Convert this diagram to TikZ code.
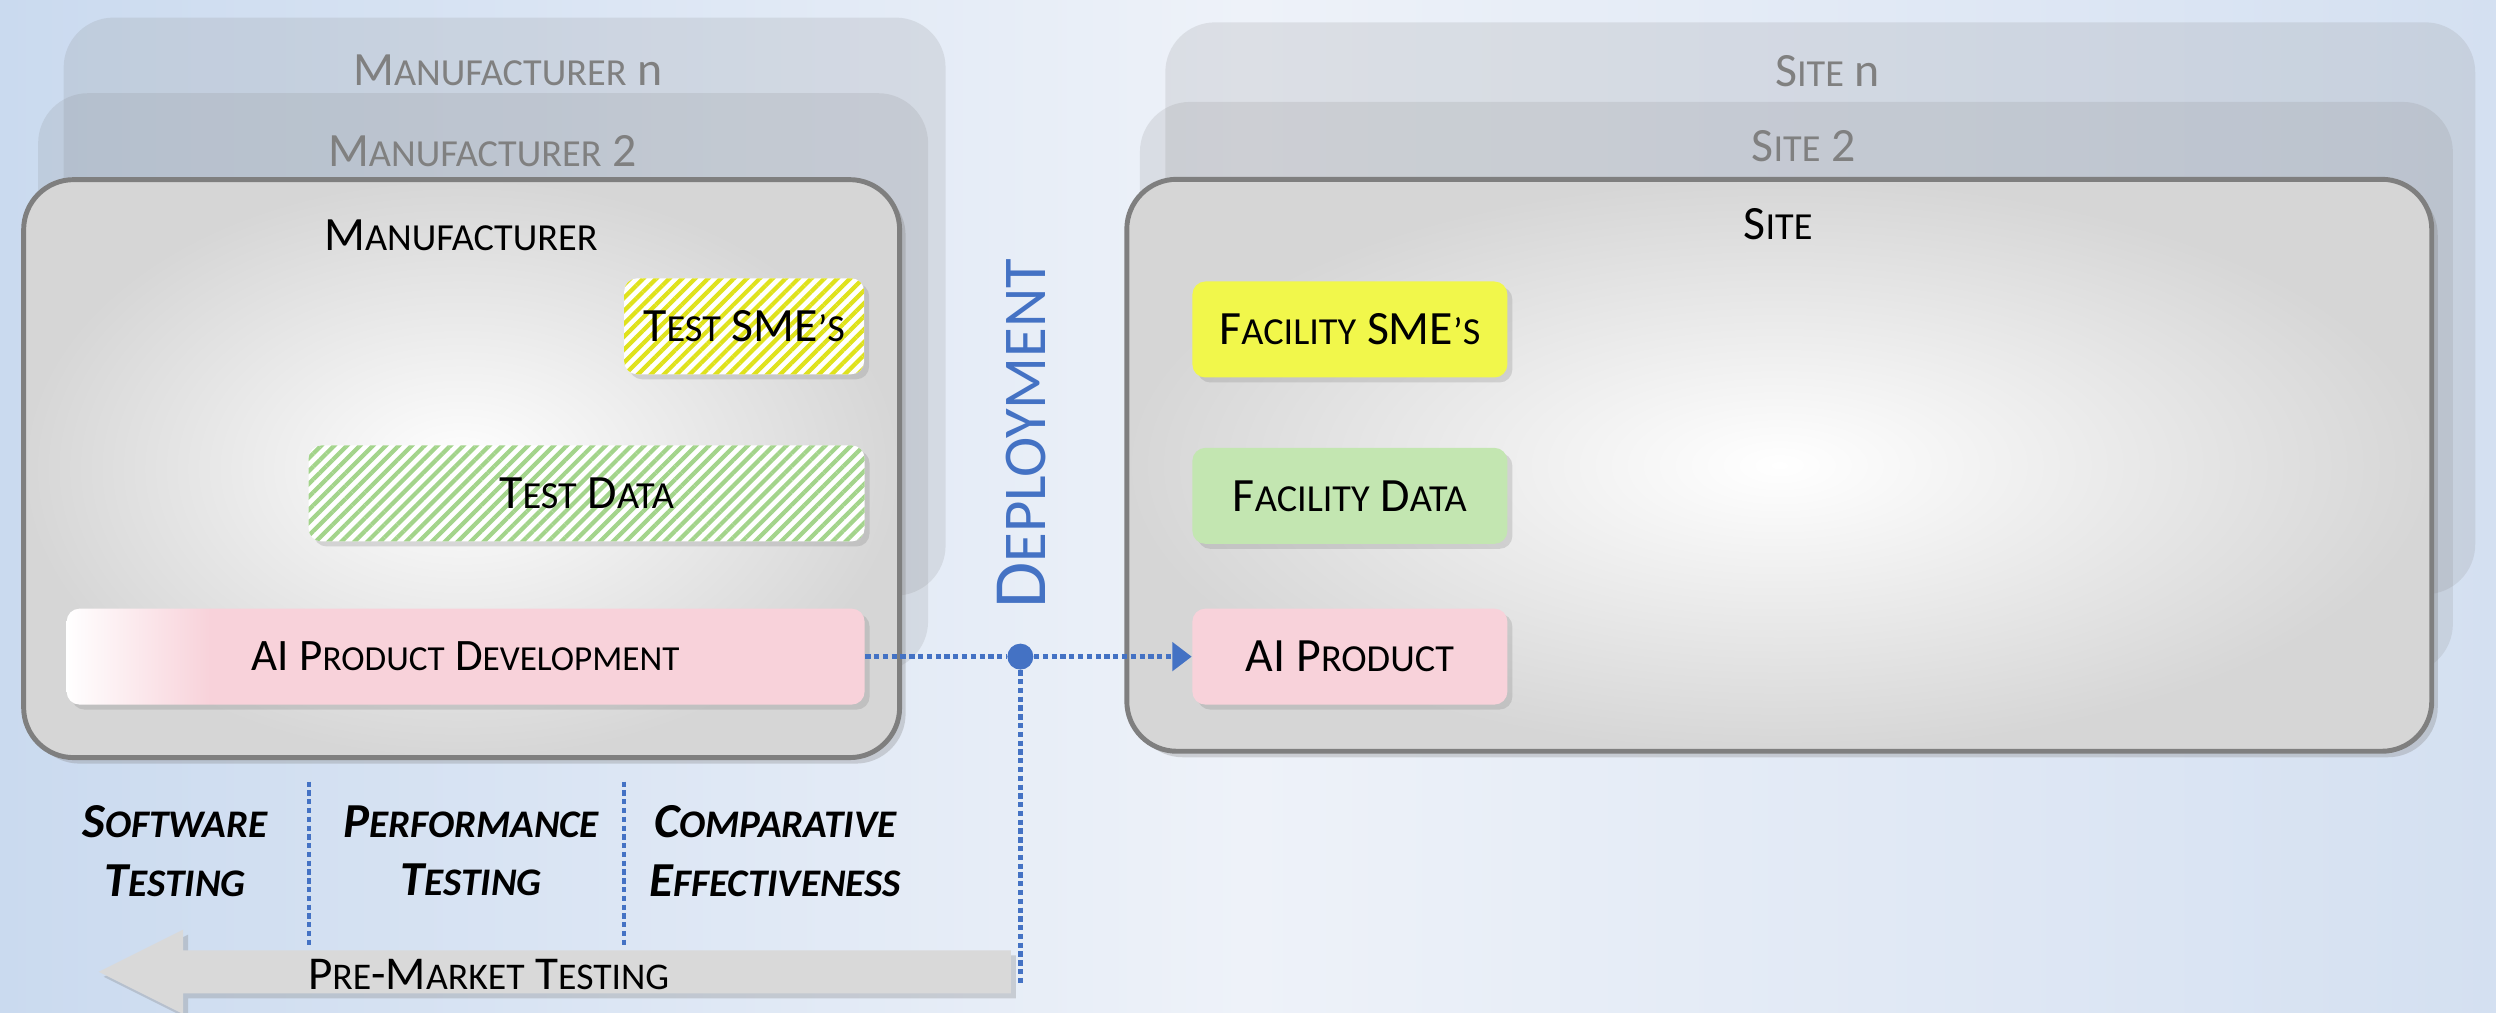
\documentclass[tikz,border=0pt]{standalone}
\usepackage{fontspec}
\setmainfont{Carlito}
\usepackage{relsize}
\usetikzlibrary{arrows.meta, shadows, patterns.meta}

\definecolor{bgl}{HTML}{CADAEF}
\definecolor{bgm}{HTML}{EEF2F9}
\definecolor{bgr}{HTML}{D4E0F1}
\definecolor{boxedge}{HTML}{7F7F7F}
\definecolor{fadedtext}{HTML}{808080}
\definecolor{smeyellow}{HTML}{F1F74B}
\definecolor{hatchyellow}{HTML}{DFE21C}
\definecolor{datagreen}{HTML}{C3E6B1}
\definecolor{hatchgreen}{HTML}{A3D48B}
\definecolor{aipink}{HTML}{F8D2DA}
\definecolor{deployblue}{HTML}{4472C4}
\definecolor{arrowgrey}{HTML}{D9D9D9}

\pgfdeclarehorizontalshading{devfade}{100bp}{color(0bp)=(white); color(25bp)=(white); color(34bp)=(aipink); color(100bp)=(aipink)}

% small caps by hand
\newcommand{\lc}[1]{{\relscale{0.8}\MakeUppercase{#1}}}

\tikzset{
  stackbox/.style={rectangle, rounded corners=0.5cm, fill=black!50, fill opacity=0.16, draw=none},
  stacktext/.style={text=fadedtext, font=\fontsize{13.6}{15}\selectfont},
  mainbox/.style={rectangle, rounded corners=0.5cm, draw=boxedge, line width=1.4pt, inner color=white, outer color=black!16, drop shadow={opacity=0.3, shadow xshift=0.6mm, shadow yshift=-0.6mm}},
  title/.style={font=\fontsize{13.6}{15}\selectfont},
  itembox/.style={rectangle, rounded corners=0.13cm, minimum height=0.96cm, font=\fontsize{13.6}{15}\selectfont, drop shadow={opacity=0.25, shadow xshift=0.5mm, shadow yshift=-0.5mm}},
  hatched/.style={itembox, preaction={fill=white}, pattern={Lines[angle=45,distance=2.6pt,line width=1.2pt]}, pattern color=#1},
  flow/.style={draw=deployblue, line width=1.3pt, dash pattern=on 1.5pt off 1pt},
  phase/.style={align=center, font=\fontsize{13.9}{16.7}\selectfont\bfseries\itshape},
}

\begin{document}
\begin{tikzpicture}[x=0.1592mm, y=-0.1592mm]
		% Background
		\useasboundingbox (0,0) rectangle (1568,636);
		\fill[left color=bgl, right color=bgr, middle color=bgm] (0,0) rectangle (1568,636);

		% Manufacturer stack
		\node[stackbox, minimum width=8.82cm, minimum height=5.78cm] (MfrN) at (317,192.6) {};
		\node[stacktext] (MfrNText) at (319,44) {M\lc{anufacturer} n};
		\node[stackbox, minimum width=8.90cm, minimum height=5.78cm] (Mfr2) at (303.5,240.1) {};
		\node[stacktext] (Mfr2Text) at (303,95) {M\lc{anufacturer} 2};
		\node[mainbox, minimum width=8.76cm, minimum height=5.78cm] (Mfr) at (290,294.4) {};
		\node[title] (MfrText) at (289.5,148) {M\lc{anufacturer}};

		\node[hatched=hatchyellow, minimum width=2.40cm] (TestSME) at (467.5,205) {T\lc{est} SME\lc{’s}};
		\node[hatched=hatchgreen, minimum width=5.56cm] (TestData) at (368.5,310) {T\lc{est} D\lc{ata}};
		\node[itembox, shade, shading=devfade, minimum width=7.98cm, font=\fontsize{12.8}{15}\selectfont] (AIDev) at (292.5,412.5) {AI P\lc{roduct} D\lc{evelopment}};

		% Site stack
		\node[stackbox, minimum width=13.10cm, minimum height=5.72cm] (SiteN) at (1143.5,193.7) {};
		\node[stacktext] (SiteNText) at (1148,45) {S\lc{ite} n};
		\node[stackbox, minimum width=13.13cm, minimum height=5.72cm] (Site2) at (1128.5,243.7) {};
		\node[stacktext] (Site2Text) at (1133,92) {S\lc{ite} 2};
		\node[mainbox, minimum width=13.05cm, minimum height=5.72cm] (Site) at (1117.75,292.3) {};
		\node[title] (SiteText) at (1117,141) {S\lc{ite}};

		\node[itembox, fill=smeyellow, minimum width=3.15cm] (FacSME) at (848,207) {F\lc{acility} SME\lc{’s}};
		\node[itembox, fill=datagreen, minimum width=3.15cm] (FacData) at (848,311.5) {F\lc{acility} D\lc{ata}};
		\node[itembox, fill=aipink, minimum width=3.15cm] (AIProd) at (848,412.5) {AI P\lc{roduct}};

		% Deployment
		\node[text=deployblue, font=\fontsize{21.4}{24}\selectfont, rotate=90] (Deploy) at (641.5,272.5) {D\lc{eployment}};
		\node[circle, fill=deployblue, minimum size=2.6mm, inner sep=0] (Dot) at (641,412.5) {};
		\coordinate (PMend) at (641,618);
		\draw[flow] (AIDev.east) -- (Dot);
		\draw[flow, -{Triangle[length=5.5pt,width=8pt]}] (Dot) -- (AIProd.west);
		\draw[flow] (Dot) -- (PMend);

		% Testing phases
		\draw[flow] (194,491) -- (194,595);
		\draw[flow] (392,491) -- (392,595);
		\node[phase] (SwTest) at (110,534.5) {S\lc{oftware}\\T\lc{esting}};
		\node[phase] (PerfTest) at (296,534.5) {P\lc{erformance}\\T\lc{esting}};
		\node[phase] (CompEff) at (487,534.5) {C\lc{omparative}\\E\lc{ffectiveness}};

		% Pre-market arrow
		\path[fill=arrowgrey, drop shadow={opacity=0.3, shadow xshift=0.5mm, shadow yshift=-0.5mm}]
			(635,597) -- (115,597) -- (115,584) -- (62,610.5) -- (115,637) -- (115,624) -- (635,624) -- cycle;
		\node[font=\fontsize{13.4}{15}\selectfont] (PMText) at (307,612) {P\lc{re}-M\lc{arket} T\lc{esting}};
\end{tikzpicture}
\end{document}
